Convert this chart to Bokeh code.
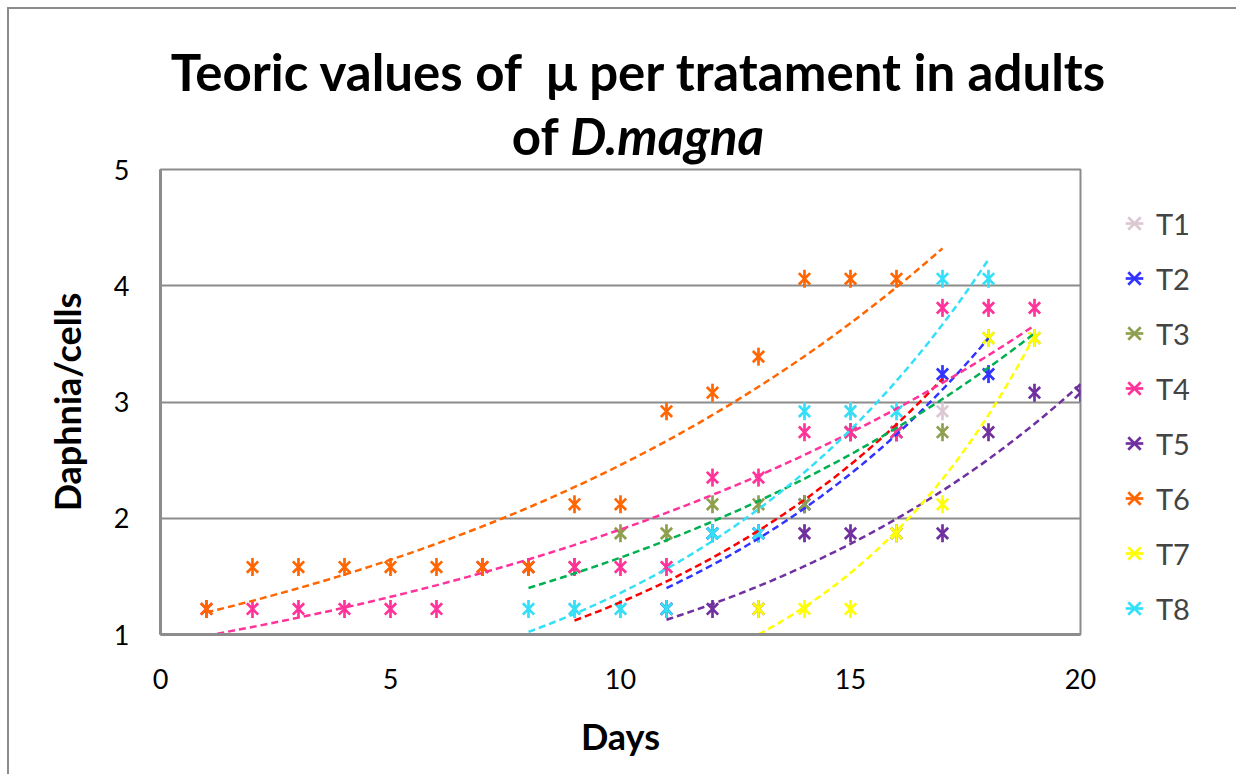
import numpy as np
from bokeh.plotting import figure
from bokeh.models import Range1d, FixedTicker, Legend, LegendItem, Div
from bokeh.layouts import column
from bokeh.embed import file_html
from bokeh.resources import INLINE

# ---- data ----
series_names = ["T1", "T2", "T3", "T4", "T5", "T6", "T7", "T8"]

t1_days = [9, 10, 11, 12, 13, 14, 15, 16, 17]
t1_vals = [1.22, 1.22, 1.58, 1.87, 1.87, 1.87, 2.92, 2.74, 2.92]
t2_days = [11, 12, 13, 14, 15, 16, 17, 18]
t2_vals = [1.22, 1.87, 1.87, 2.12, 2.74, 2.74, 3.24, 3.24]
t3_days = [8, 9, 10, 11, 12, 13, 14, 15, 16, 17, 18, 19]
t3_vals = [1.58, 1.58, 1.87, 1.87, 2.12, 2.12, 2.12, 2.74, 2.74, 2.74, 3.55, 3.55]
t4_days = [1, 2, 3, 4, 5, 6, 7, 8, 9, 10, 11, 12, 13, 14, 15, 16, 17, 18, 19]
t4_vals = [1.22, 1.22, 1.22, 1.22, 1.22, 1.22, 1.58, 1.58, 1.58, 1.58, 1.58,
           2.35, 2.35, 2.74, 2.74, 2.74, 3.81, 3.81, 3.81]
t5_days = [11, 12, 13, 14, 15, 16, 17, 18, 19, 20]
t5_vals = [1.22, 1.22, 1.22, 1.87, 1.87, 1.87, 1.87, 2.74, 3.08, 3.08]
t6_days = [1, 2, 3, 4, 5, 6, 7, 8, 9, 10, 11, 12, 13, 14, 15, 16]
t6_vals = [1.22, 1.58, 1.58, 1.58, 1.58, 1.58, 1.58, 1.58, 2.12, 2.12,
           2.92, 3.08, 3.39, 4.06, 4.06, 4.06]
t7_days = [13, 14, 15, 16, 17, 18, 19]
t7_vals = [1.22, 1.22, 1.22, 1.87, 2.12, 3.55, 3.55]
t8_days = [8, 9, 10, 11, 12, 13, 14, 15, 16, 17, 18]
t8_vals = [1.22, 1.22, 1.22, 1.22, 1.87, 1.87, 2.92, 2.92, 2.92, 4.06, 4.06]

# exponential trendlines y = a * exp(b * x), drawn between start and end day
trend_a = [0.344, 0.3245, 0.706, 0.921, 0.3205, 1.098, 0.0635, 0.3286]
trend_b = [0.1312, 0.1329, 0.0856, 0.0726, 0.1143, 0.0806, 0.2121, 0.1419]
trend_start = [9, 11, 8, 1, 11, 1, 13, 8]
trend_end = [17, 18, 19, 19, 20, 17, 19, 18]

marker_colors = ["#dcc8d2", "#3333ff", "#8ea04e", "#ff3399", "#7030a0", "#ff6600", "#ffff00", "#33e0f8"]
trend_colors = ["#ff0000", "#3333ff", "#00b050", "#ff3399", "#7030a0", "#ff6600", "#ffff00", "#33e0f8"]

days_list = [t1_days, t2_days, t3_days, t4_days, t5_days, t6_days, t7_days, t8_days]
vals_list = [t1_vals, t2_vals, t3_vals, t4_vals, t5_vals, t6_vals, t7_vals, t8_vals]

x_ticks = [0, 5, 10, 15, 20]
y_ticks = [1, 2, 3, 4, 5]

title_line1 = "Teoric values of&nbsp; \u03bc per tratament in adults"
title_line2_a = "of"
title_line2_b = "D.magna"

# ---- layout sizes ----
W = 1225
DIV_H = 135

title = Div(
    text=(f'<div style="box-sizing:border-box;height:120px;overflow:visible;'
          f'font-family:Lato;font-weight:bold;font-size:51px;color:black;'
          f'text-align:center;line-height:64px;padding-top:31px;padding-left:33px;width:1225px;">'
          f'{title_line1}<br>{title_line2_a} <i>{title_line2_b}</i></div>'),
    width=W, height=DIV_H, margin=0, styles={"overflow": "visible"})

p = figure(frame_width=920, frame_height=465, output_backend="svg", toolbar_location=None,
           x_range=Range1d(0, 20), y_range=Range1d(1, 5),
           min_border_left=151, min_border_right=154, min_border_top=25, min_border_bottom=140)
p.background_fill_color = "white"
p.border_fill_color = None
p.outline_line_color = "#8c8c8c"
p.outline_line_width = 2

grey = "#8c8c8c"
for ax in (p.xaxis[0], p.yaxis[0]):
    ax.axis_line_color = grey
    ax.axis_line_width = 3
    ax.major_tick_line_color = None
    ax.minor_tick_line_color = None
    ax.major_label_text_font = "Lato"
    ax.major_label_text_font_size = "27px"
    ax.major_label_text_color = "black"
    ax.axis_label_text_font = "Lato"
    ax.axis_label_text_font_style = "bold"
    ax.axis_label_text_font_size = "36px"
    ax.axis_label_text_color = "black"

p.xaxis.ticker = FixedTicker(ticks=x_ticks)
p.yaxis.ticker = FixedTicker(ticks=y_ticks)
p.xaxis.axis_label = "Days"
p.yaxis.axis_label = "Daphnia/cells"
p.xaxis.major_label_standoff = 28
p.yaxis.major_label_standoff = 25
p.xaxis.axis_label_standoff = 22
p.yaxis.axis_label_standoff = 22

p.xgrid.visible = False
p.ygrid.ticker = FixedTicker(ticks=[2, 3, 4])
p.ygrid.grid_line_color = grey
p.ygrid.grid_line_width = 2

# markers: an "x" with a vertical bar (Excel star marker)
items = []
for name, d, v, mc in zip(series_names, days_list, vals_list, marker_colors):
    rx = p.scatter(d, v, marker="x", size=16, line_color=mc, line_width=2.7)
    rv = p.scatter(d, v, marker="dash", size=18, angle=np.pi / 2, line_color=mc, line_width=2.7)
    items.append(LegendItem(label=name, renderers=[rx, rv]))

# trendlines
for a, b, s, e, tc in zip(trend_a, trend_b, trend_start, trend_end, trend_colors):
    xs = np.linspace(s, e, 80)
    ys = a * np.exp(b * xs)
    p.line(xs, ys, line_color=tc, line_width=2.5, line_dash="7 4")

legend = Legend(items=items, location="top_left", orientation="vertical",
                label_text_font="Lato", label_text_font_size="29px",
                glyph_width=44, glyph_height=44, label_height=44,
                label_standoff=0, spacing=11, padding=0, margin=32,
                border_line_color=None, background_fill_alpha=0)
p.add_layout(legend, "right")

layout = column(title, p, spacing=0,
                styles={"margin": "7px 0 0 7px",
                        "border-top": "2px solid #8c8c8c",
                        "border-left": "2px solid #8c8c8c"})

open("out.html", "w").write(file_html(layout, INLINE))
